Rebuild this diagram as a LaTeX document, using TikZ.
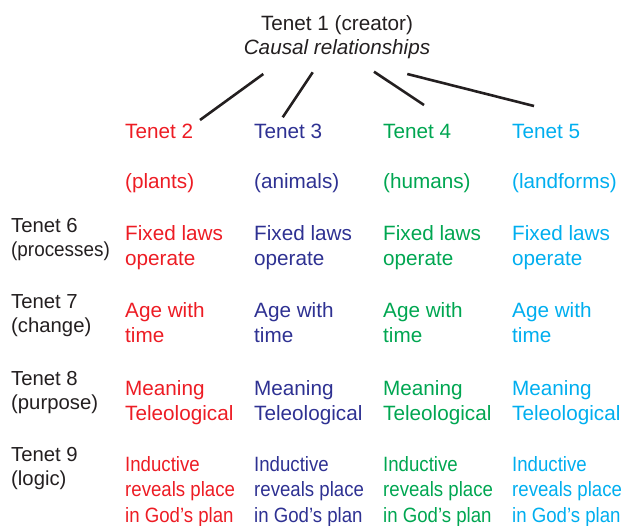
\documentclass[tikz,border=0pt]{standalone}
\usepackage{fontspec}
\setmainfont{Liberation Sans}
\newfontfamily\condfont[FakeStretch=0.9]{Liberation Sans}
\newfontfamily\semicondfont[FakeStretch=0.93]{Liberation Sans}
\definecolor{tblack}{HTML}{231F20}
\definecolor{tred}{HTML}{ED1C24}
\definecolor{tblue}{HTML}{2E3192}
\definecolor{tgreen}{HTML}{00A651}
\definecolor{tcyan}{HTML}{00AEEF}
\newcommand{\cell}[1]{\begin{tabular}[t]{@{}l@{}}#1\end{tabular}}
\begin{document}
\begin{tikzpicture}[x=1pt,y=-1pt,
  txt/.style={anchor=base west, inner sep=0pt, font=\fontsize{20.7}{25.3}\selectfont},
  lbl/.style={txt, text=tblack, font=\fontsize{20.3}{24.3}\selectfont},
  last/.style={txt, font=\condfont\fontsize{20.7}{25.5}\selectfont},
  title/.style={anchor=base, inner sep=0pt, text=tblack, font=\fontsize{20.7}{25}\selectfont},
  link/.style={draw=tblack, line width=2.6pt}]
\useasboundingbox (0,0) rectangle (623,525);
% title
\node[title] (t1) at (337,30) {Tenet 1 (creator)};
\node[title, font=\fontsize{20.7}{25}\selectfont\itshape] (t1b) at (337,54.5) {Causal relationships};
% column headers
\node[txt, text=tred]   (h2) at (125,138) {Tenet 2};
\node[txt, text=tblue]  (h3) at (254,138) {Tenet 3};
\node[txt, text=tgreen] (h4) at (383,138) {Tenet 4};
\node[txt, text=tcyan]  (h5) at (512,138) {Tenet 5};
\node[txt, text=tred]   (p2) at (125,188) {(plants)};
\node[txt, text=tblue]  (p3) at (254,188) {(animals)};
\node[txt, text=tgreen] (p4) at (383,188) {(humans)};
\node[txt, text=tcyan]  (p5) at (512,188) {(landforms)};
% connectors
\coordinate (a2) at (263.3,74);  \coordinate (e2) at (200,120);
\coordinate (a3) at (312.7,72.3); \coordinate (e3) at (282.7,117.3);
\coordinate (a4) at (374,71.7);  \coordinate (e4) at (424,105);
\coordinate (a5) at (407.3,74);  \coordinate (e5) at (534,106);
\draw[link] (a2) -- (e2);
\draw[link] (a3) -- (e3);
\draw[link] (a4) -- (e4);
\draw[link] (a5) -- (e5);
% row labels
\node[lbl] (r6) at (11,232) {\cell{Tenet 6\\{\semicondfont(processes)}}};
\node[lbl] (r7) at (11,308.5) {\cell{Tenet 7\\(change)}};
\node[lbl] (r8) at (11,385) {\cell{Tenet 8\\(purpose)}};
\node[lbl] (r9) at (11,461) {\cell{Tenet 9\\(logic)}};
% row 6
\node[txt, text=tred]   (c62) at (125,240) {\cell{Fixed laws\\operate}};
\node[txt, text=tblue]  (c63) at (254,240) {\cell{Fixed laws\\operate}};
\node[txt, text=tgreen] (c64) at (383,240) {\cell{Fixed laws\\operate}};
\node[txt, text=tcyan]  (c65) at (512,240) {\cell{Fixed laws\\operate}};
% row 7
\node[txt, text=tred]   (c72) at (125,317) {\cell{Age with\\time}};
\node[txt, text=tblue]  (c73) at (254,317) {\cell{Age with\\time}};
\node[txt, text=tgreen] (c74) at (383,317) {\cell{Age with\\time}};
\node[txt, text=tcyan]  (c75) at (512,317) {\cell{Age with\\time}};
% row 8
\node[txt, text=tred]   (c82) at (125,395) {\cell{Meaning\\Teleological}};
\node[txt, text=tblue]  (c83) at (254,395) {\cell{Meaning\\Teleological}};
\node[txt, text=tgreen] (c84) at (383,395) {\cell{Meaning\\Teleological}};
\node[txt, text=tcyan]  (c85) at (512,395) {\cell{Meaning\\Teleological}};
% row 9
\node[last, text=tred]   (c92) at (125,471) {\cell{Inductive\\reveals place\\in God’s plan}};
\node[last, text=tblue]  (c93) at (254,471) {\cell{Inductive\\reveals place\\in God’s plan}};
\node[last, text=tgreen] (c94) at (383,471) {\cell{Inductive\\reveals place\\in God’s plan}};
\node[last, text=tcyan]  (c95) at (512,471) {\cell{Inductive\\reveals place\\in God’s plan}};
\end{tikzpicture}
\end{document}
